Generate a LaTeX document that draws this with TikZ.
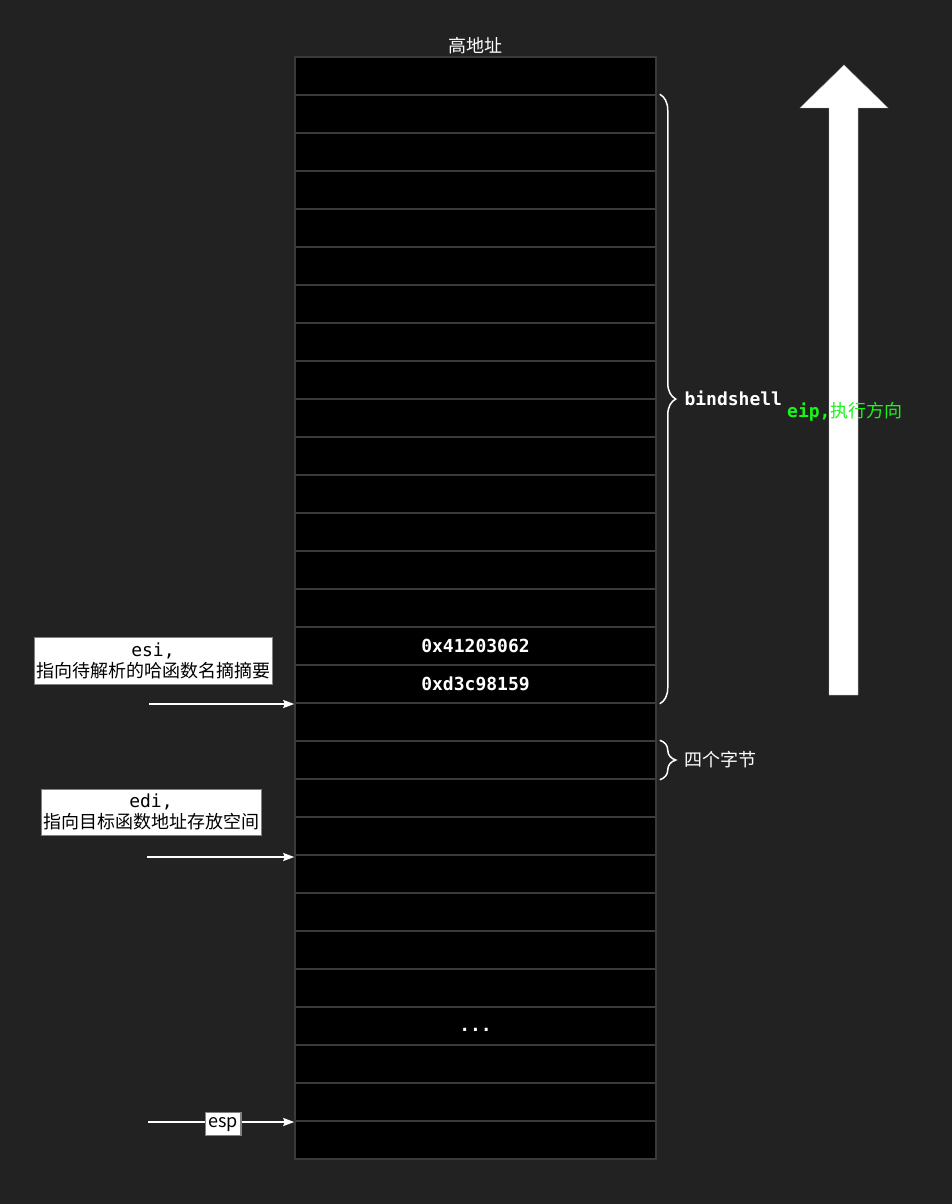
\documentclass[tikz,border=0pt]{standalone}
\usepackage{fontspec}
\setmainfont{Noto Sans CJK SC}
\setmonofont{DejaVu Sans Mono}
\usetikzlibrary{positioning,decorations.pathreplacing,arrows.meta}
\definecolor{bg}{HTML}{222222}
\definecolor{cellline}{HTML}{3A3A3A}
\definecolor{eipgreen}{HTML}{19F519}

\begin{document}
\begin{tikzpicture}[x=1pt,y=-1pt]
        \tikzstyle{every node}=[font=\fontsize{18}{21}\selectfont,text=white,inner sep=2pt]
        \tikzstyle{cell}=[rectangle,draw=cellline,line width=1.5pt,fill=black,minimum width=361pt,minimum height=38pt,inner sep=0pt]
        \tikzstyle{hexval}=[font=\fontsize{18}{21}\selectfont\ttfamily\bfseries]
        \tikzstyle{regbox}=[rectangle,fill=white,draw=gray,text=black,align=center]
        \tikzstyle{pointer}=[draw=white,line width=1.5pt,-{Stealth[length=11pt,width=8pt,inset=1.5pt]}]
        \tikzstyle{bracket}=[draw=white,line width=1.5pt,decorate,decoration={brace,amplitude=16pt}]
        \fill[bg] (0,0) rectangle (952,1204);
        \useasboundingbox (0,0) rectangle (952,1204);
        \foreach \i in {0,...,28}
                \node[cell] (r\i) at (475.5,{76+38*\i}) {};
        \node[above=0pt of r0] (high) {高地址};
        \node[hexval] (h1) at (r15) {0x41203062};
        \node[hexval] (h2) at (r16) {0xd3c98159};
        \node[hexval,yshift=-4pt] (dots) at (r25) {...};
        \draw[bracket] ([xshift=3pt]r1.north east) -- ([xshift=3pt]r16.south east)
                node[midway,right=22pt,yshift=1pt,hexval] (bind) {bindshell};
        \draw[bracket] ([xshift=3pt]r18.north east) -- ([xshift=3pt]r18.south east)
                node[midway,right=22pt] (four) {四个字节};
        \coordinate (esitail) at (149,704);
        \coordinate (editail) at (147,857);
        \coordinate (esptail) at (148,1122);
        \node[regbox,minimum height=47pt] (esi) at (153,660.5) {{\ttfamily esi,}\\指向待解析的哈函数名摘摘要};
        \node[regbox,minimum height=46pt] (edi) at (151,812) {{\ttfamily edi,}\\指向目标函数地址存放空间};
        \draw[pointer] (esitail) -- (esitail -| r17.west);
        \draw[pointer] (editail) -- (editail -| r21.west);
        \draw[pointer] (esptail) -- (esptail -| r28.west)
                node[pos=0.514,regbox,text height=12pt,text depth=5pt,inner sep=3pt,yshift=-2pt] (esp) {esp};
        \draw[fill=white,draw=gray!60] (829,695) -- (829,108) -- (800,108) -- (844,65)
                -- (888,108) -- (858,108) -- (858,695) -- cycle;
        \node[anchor=west,text=eipgreen] (eip) at (785,412) {{\ttfamily\bfseries eip,}执行方向};
\end{tikzpicture}
\end{document}
